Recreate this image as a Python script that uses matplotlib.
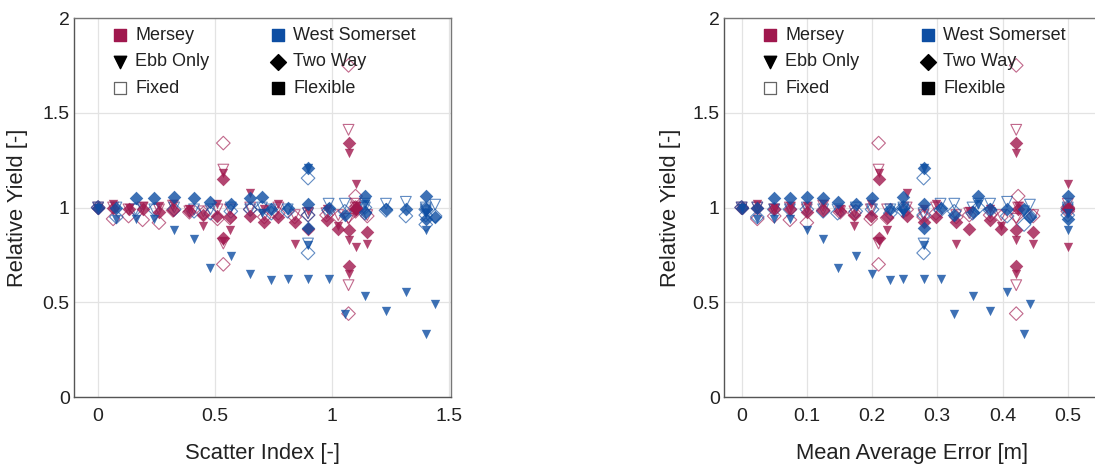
import matplotlib
matplotlib.use("Agg")
import matplotlib.pyplot as plt
import numpy as np

nan = np.nan

# Mersey runs: scatter index, mean average error, and relative yield for each scheme
mersey_si = [0, 0.064, 0.13, 0.19, 0.26, 0.32, 0.39, 0.45, 0.51, 0.535, 0.535, 0.563, 0.65,
             0.71, 0.77, 0.84, 0.897, 0.976, 1.026, 1.07, 1.07, 1.07, 1.10, 1.10, 1.10, 1.15]
mersey_mae = [0, 0.024, 0.05, 0.074, 0.10, 0.125, 0.151, 0.173, 0.198, 0.21, 0.21, 0.223, 0.253,
              0.279, 0.298, 0.329, 0.349, 0.381, 0.398, 0.421, 0.421, 0.421, 0.424, 0.50, 0.50, 0.447]
mersey_ebb_fixed = [1, 1.00, 0.99, 1.00, 0.99, 1.01, 0.98, 0.98, 0.99, 1.20, 0.81, 0.99, 1.00,
                    0.96, 1.00, 0.96, 0.97, 0.97, 0.96, 1.41, 0.59, 0.94, 1.00, 1.02, 0.98, 0.96]
mersey_ebb_flex = [1, 1.02, 1.00, 1.01, 1.01, 1.02, 0.99, 0.90, 1.02, 1.18, 0.825, 0.88, 1.075,
                   0.99, 1.02, 0.81, 0.98, 0.99, 0.90, 1.29, 0.65, 0.83, 1.01, 1.125, 0.79, 0.805]
mersey_two_fixed = [1, 0.94, 0.955, 0.935, 0.92, 0.985, 0.975, 0.97, 0.94, 1.34, 0.70, 0.945, 0.99,
                    0.95, 0.97, 0.95, 0.96, 0.96, 0.95, 1.75, 0.44, 0.955, 1.06, 1.00, 0.98, 0.955]
mersey_two_flex = [1, 1.00, 0.99, 0.99, 0.975, 0.985, 0.98, 0.96, 0.955, 1.15, 0.84, 0.95, 0.955,
                   0.925, 0.95, 0.925, 0.885, 0.935, 0.885, 1.34, 0.69, 0.88, 0.99, 0.99, 1.00, 0.87]

# West Somerset runs
ws_si = [0, 0.078, 0.16, 0.24, 0.325, 0.41, 0.48, 0.567, 0.65, 0.74, 0.70, 0.81, 0.897, 0.897,
         0.897, 0.985, 1.054, 1.14, 1.14, 1.23, 1.315, 1.40, 1.44, 1.40, 1.40]
ws_mae = [0, 0.024, 0.05, 0.074, 0.10, 0.125, 0.147, 0.175, 0.20, 0.228, 0.248, 0.248, 0.279, 0.279,
          0.279, 0.305, 0.326, 0.354, 0.363, 0.381, 0.407, 0.433, 0.442, 0.50, 0.50]
ws_ebb_fixed = [1, 1.00, 0.99, 0.99, 1.00, 0.99, 0.99, 1.00, 0.99, 0.99, 1.00, 0.99, nan, 0.81,
                0.97, 1.02, 1.02, 1.00, 1.02, 1.02, 1.03, 0.98, 1.015, 1.00, 0.99]
ws_ebb_flex = [1, 0.94, 0.94, 0.94, 0.88, 0.835, 0.68, 0.745, 0.65, 0.617, 0.97, 0.625, 1.21, 0.80,
               0.625, 0.625, 0.44, 0.535, 1.02, 0.455, 0.555, 0.33, 0.49, 0.88, 0.97]
ws_two_fixed = [1, 0.95, 0.99, 0.99, 0.99, 0.98, 0.97, 0.98, 0.99, 0.97, 1.00, 0.98, 1.155, 0.76,
                0.96, 0.985, 0.98, 0.97, 1.00, 0.985, 0.955, 0.91, 0.955, 0.99, 0.96]
ws_two_flex = [1, 1.00, 1.05, 1.05, 1.055, 1.05, 1.03, 1.02, 1.05, 0.99, 1.055, 1.00, 1.21, 0.89,
               1.02, 1.00, 0.96, 0.975, 1.06, 0.99, 0.99, 0.99, 0.95, 1.06, 0.94]

red = "#a0184e"
blue = "#0d4ea3"

plt.rcParams["font.family"] = ["Liberation Sans", "DejaVu Sans"]

fig = plt.figure(figsize=(10.95, 4.68), dpi=100)
ax1 = fig.add_axes([0.0676, 0.1517, 0.3443, 0.8098])
ax2 = fig.add_axes([0.6612, 0.1517, 0.3443, 0.8098])


def draw_site(ax, x, ebb_fix, ebb_flex, two_fix, two_flex, col):
    ax.scatter(x, ebb_fix, marker="v", s=60, facecolors="none", edgecolors=col,
               linewidths=0.8, alpha=0.65, zorder=3)
    ax.scatter(x, two_fix, marker="D", s=48, facecolors="none", edgecolors=col,
               linewidths=0.8, alpha=0.65, zorder=3)
    ax.scatter(x, ebb_flex, marker="v", s=45, color=col, linewidths=0, alpha=0.8, zorder=4)
    ax.scatter(x, two_flex, marker="D", s=48, color=col, linewidths=0, alpha=0.8, zorder=4)


def panel(ax, x_m, x_w, xlim, xticks, xlabel, ylab_x):
    draw_site(ax, x_m, mersey_ebb_fixed, mersey_ebb_flex, mersey_two_fixed, mersey_two_flex, red)
    draw_site(ax, x_w, ws_ebb_fixed, ws_ebb_flex, ws_two_fixed, ws_two_flex, blue)
    ax.set_xlim(xlim)
    ax.set_ylim(0, 2)
    ax.set_xticks(xticks)
    ax.set_xticklabels([("%g" % t) for t in xticks])
    ax.set_yticks([0, 0.5, 1, 1.5, 2])
    ax.set_yticklabels(["0", "0.5", "1", "1.5", "2"])
    ax.tick_params(length=0, labelsize=14, colors="#222222")
    ax.tick_params(axis="x", pad=8)
    ax.tick_params(axis="y", pad=3)
    ax.grid(color="#e3e3e3", linewidth=0.9)
    ax.set_axisbelow(True)
    for s in ax.spines.values():
        s.set_color("#777777")
        s.set_linewidth(1.0)
    ax.spines["left"].set_color("#555555")
    ax.spines["bottom"].set_color("#555555")
    ax.set_xlabel(xlabel, fontsize=15.8, va="center", color="#222222")
    ax.xaxis.set_label_coords(0.5, -0.148)
    ax.set_ylabel("Relative Yield [-]", fontsize=15.8, va="center", color="#222222")
    ax.yaxis.set_label_coords(ylab_x, 0.5)

    # legend drawn by hand
    tr = ax.transAxes
    rows = [0.955, 0.884, 0.815]
    c1, t1, c2, t2 = 0.122, 0.162, 0.541, 0.581
    ax.scatter([c1], [rows[0]], marker="s", s=80, color=red, transform=tr, clip_on=False)
    ax.scatter([c2], [rows[0]], marker="s", s=80, color=blue, transform=tr, clip_on=False)
    ax.scatter([c1], [rows[1]], marker="v", s=80, color="black", transform=tr, clip_on=False)
    ax.scatter([c2], [rows[1]], marker="D", s=65, color="black", transform=tr, clip_on=False)
    ax.scatter([c1], [rows[2]], marker="s", s=80, facecolors="white", edgecolors="#666666",
               linewidths=0.9, transform=tr, clip_on=False)
    ax.scatter([c2], [rows[2]], marker="s", s=80, color="black", transform=tr, clip_on=False)
    labels = [("Mersey", "West Somerset"), ("Ebb Only", "Two Way"), ("Fixed", "Flexible")]
    for y, (a, b) in zip(rows, labels):
        ax.text(t1, y, a, transform=tr, fontsize=13, va="center", color="#222222")
        ax.text(t2, y, b, transform=tr, fontsize=13, va="center", color="#222222")


panel(ax1, mersey_si, ws_si, (-0.103, 1.508), [0, 0.5, 1, 1.5], "Scatter Index [-]", -0.149)
panel(ax2, mersey_mae, ws_mae, (-0.027, 0.551), [0, 0.1, 0.2, 0.3, 0.4, 0.5],
      "Mean Average Error [m]", -0.143)

fig.savefig("out.png", dpi=100)
